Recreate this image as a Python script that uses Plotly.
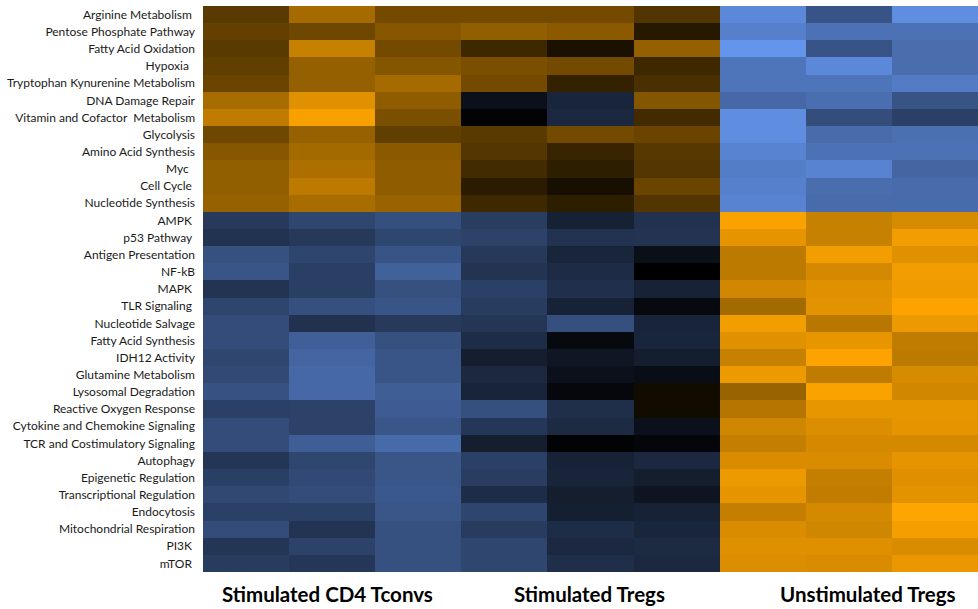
import plotly.graph_objects as go

# Pathway rows, top to bottom
pathways = [
    "Arginine Metabolism\u00a0", "Pentose Phosphate Pathway", "Fatty Acid Oxidation", "Hypoxia\u00a0\u00a0",
    "Tryptophan Kynurenine Metabolism", "DNA Damage Repair", "Vitamin and Cofactor\u00a0 Metabolism",
    "Glycolysis", "Amino Acid Synthesis", "Myc\u00a0\u00a0", "Cell Cycle\u00a0", "Nucleotide Synthesis",
    "AMPK\u00a0", "p53 Pathway\u00a0", "Antigen Presentation", "NF-kB", "MAPK\u00a0", "TLR Signaling\u00a0",
    "Nucleotide Salvage", "Fatty Acid Synthesis", "IDH12 Activity", "Glutamine Metabolism",
    "Lysosomal Degradation", "Reactive Oxygen Response", "Cytokine and Chemokine Signaling",
    "TCR and Costimulatory Signaling", "Autophagy", "Epigenetic Regulation",
    "Transcriptional Regulation", "Endocytosis", "Mitochondrial Respiration", "PI3K\u00a0", "mTOR\u00a0",
]

groups = ["Stimulated CD4 Tconvs", "Stimulated Tregs", "Unstimulated Tregs"]

# Relative pathway scores, three replicates per group (negative = down, positive = up)
tconv_stim = [
    [0.35, 0.65, 0.45], [0.39, 0.43, 0.53], [0.35, 0.78, 0.45], [0.38, 0.58, 0.52],
    [0.42, 0.58, 0.65], [0.66, 0.88, 0.56], [0.75, 0.97, 0.48], [0.43, 0.59, 0.38],
    [0.53, 0.64, 0.54], [0.57, 0.68, 0.56], [0.57, 0.74, 0.56], [0.59, 0.66, 0.60],
    [-0.39, -0.47, -0.53], [-0.34, -0.38, -0.47], [-0.54, -0.46, -0.56], [-0.57, -0.42, -0.65],
    [-0.35, -0.42, -0.54], [-0.46, -0.53, -0.57], [-0.51, -0.33, -0.39], [-0.51, -0.64, -0.54],
    [-0.47, -0.68, -0.57], [-0.49, -0.70, -0.57], [-0.55, -0.70, -0.63], [-0.43, -0.44, -0.62],
    [-0.51, -0.44, -0.58], [-0.51, -0.63, -0.71], [-0.36, -0.47, -0.58], [-0.42, -0.49, -0.58],
    [-0.48, -0.51, -0.59], [-0.43, -0.43, -0.58], [-0.51, -0.35, -0.54], [-0.36, -0.44, -0.54],
    [-0.40, -0.37, -0.54],
]
treg_stim = [
    [0.45, 0.45, 0.32], [0.57, 0.54, 0.15], [0.24, 0.10, 0.58], [0.48, 0.45, 0.24],
    [0.45, 0.20, 0.29], [-0.11, -0.25, 0.52], [-0.02, -0.27, 0.26], [0.35, 0.45, 0.42],
    [0.33, 0.22, 0.34], [0.26, 0.18, 0.33], [0.17, 0.09, 0.42], [0.24, 0.18, 0.32],
    [-0.41, -0.22, -0.33], [-0.44, -0.34, -0.35], [-0.38, -0.25, -0.10], [-0.35, -0.29, 0.00],
    [-0.43, -0.32, -0.23], [-0.40, -0.23, -0.06], [-0.36, -0.53, -0.24], [-0.30, -0.06, -0.25],
    [-0.20, -0.15, -0.20], [-0.27, -0.11, -0.09], [-0.24, -0.05, 0.07], [-0.53, -0.31, 0.07],
    [-0.37, -0.28, -0.11], [-0.20, -0.02, -0.04], [-0.43, -0.23, -0.27], [-0.41, -0.24, -0.20],
    [-0.30, -0.20, -0.14], [-0.46, -0.21, -0.23], [-0.40, -0.30, -0.25], [-0.47, -0.27, -0.28],
    [-0.47, -0.31, -0.27],
]
treg_unstim = [
    [-0.91, -0.56, -0.95], [-0.86, -0.76, -0.76], [-1.00, -0.56, -0.73], [-0.78, -0.91, -0.73],
    [-0.78, -0.78, -0.83], [-0.70, -0.74, -0.56], [-0.95, -0.52, -0.43], [-0.95, -0.72, -0.75],
    [-0.88, -0.76, -0.76], [-0.84, -0.88, -0.68], [-0.86, -0.73, -0.72], [-0.88, -0.72, -0.72],
    [0.98, 0.78, 0.84], [0.90, 0.78, 0.95], [0.74, 0.95, 0.88], [0.74, 0.83, 0.95],
    [0.82, 0.88, 0.94], [0.64, 0.89, 0.99], [0.95, 0.72, 0.93], [0.88, 0.91, 0.75],
    [0.78, 0.99, 0.74], [0.93, 0.75, 0.84], [0.60, 0.98, 0.82], [0.71, 0.91, 0.91],
    [0.81, 0.86, 0.90], [0.77, 0.83, 0.83], [0.85, 0.85, 0.90], [0.93, 0.77, 0.87],
    [0.90, 0.76, 0.89], [0.77, 0.83, 1.00], [0.85, 0.81, 0.96], [0.87, 0.87, 0.85],
    [0.86, 0.85, 0.92],
]

z = [a + b + c for a, b, c in zip(tconv_stim, treg_stim, treg_unstim)]
rows = list(range(len(pathways)))
cols = list(range(9))

fig = go.Figure(
    go.Heatmap(
        z=z,
        x=cols,
        y=rows,
        zmin=-1,
        zmax=1,
        colorscale=[[0, "#6495ED"], [0.5, "#000000"], [1, "#FFA500"]],
        showscale=False,
        hoverinfo="skip",
    )
)

# Group captions under each block of three columns
group_x = [0.94, 3.99, 7.22]
for name, gx in zip(groups, group_x):
    fig.add_annotation(
        x=gx, y=-0.039, xref="x", yref="paper",
        text=f"<b>{name}</b>", showarrow=False,
        xanchor="center", yanchor="middle",
        font=dict(family="Lato", size=20.5, color="#000000"),
    )

fig.update_xaxes(visible=False, range=[-0.5, 8.5], showgrid=False, zeroline=False)
fig.update_yaxes(
    tickvals=rows,
    ticktext=pathways,
    autorange="reversed",
    showgrid=False,
    zeroline=False,
    ticks="",
    ticklabelstandoff=7,
    tickfont=dict(family="Lato", size=12, color="#1a1a1a"),
)
fig.update_layout(
    width=978,
    height=609,
    margin=dict(l=203, r=0, t=6, b=37),
    paper_bgcolor="white",
    plot_bgcolor="white",
)

fig.write_html("out.html")
